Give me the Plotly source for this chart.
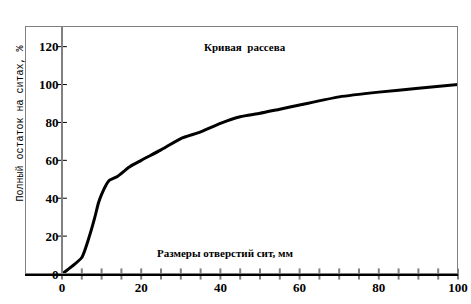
import plotly.graph_objects as go

sieve_mm = [0, 2.5, 5, 7, 8.3, 9.2, 10, 11, 12, 14, 17, 20, 25, 30, 35, 40, 45, 50, 55, 60, 70, 80, 90, 100]
residue_pct = [0, 4, 8.7, 20.5, 30, 37.5, 42, 46.5, 49.5, 51.5, 56.5, 60, 65.5, 71.5, 75, 79.5, 83, 84.8, 87, 89.2, 93.5, 96, 98, 100]
x_tick_vals = list(range(0, 101, 5))
x_tick_text = ["<b>0</b>", "", "", "", "<b>20</b>", "", "", "", "<b>40</b>", "", "", "",
               "<b>60</b>", "", "", "", "<b>80</b>", "", "", "", "<b>100</b>"]
y_ticks = [0, 20, 40, 60, 80, 100, 120]
y_tick_text = ["<b>0</b>", "<b>20</b>", "<b>40</b>", "<b>60</b>", "<b>80</b>", "<b>100</b>", "<b>120</b>"]
frame_x = [0, 1, 1, 0, 0]
frame_y = [0, 0, 1, 1, 0]

title_text = "Кривая  рассева"
x_title = "Размеры отверстий сит, мм"
y_title = "Полный остаток на ситах, %"

W, H = 471, 304
L, R, T, B = 25, 13, 26, 30
pw, ph = W - L - R, H - T - B
X0_PX = 62
x_left = -(X0_PX - L) / ((W - R - X0_PX) / 100.0)
XRANGE = [x_left, 100]
YRANGE = [0, 130.9]

SERIF = "Times New Roman, Liberation Serif, DejaVu Serif, serif"
MONO = "Courier New, Liberation Mono, DejaVu Sans Mono, monospace"
GRAY = "#808080"

fig = go.Figure()
# outer frame on a unit overlay axis pair
fig.add_trace(go.Scatter(x=frame_x, y=frame_y, xaxis="x2", yaxis="y2", mode="lines",
                         line=dict(color=GRAY, width=2), cliponaxis=False,
                         hoverinfo="skip", showlegend=False))
# tick marks drawn as markers on the axes
fig.add_trace(go.Scatter(x=x_tick_vals, y=[0] * len(x_tick_vals), mode="markers",
                         marker=dict(symbol="line-ns", size=8, line=dict(color=GRAY, width=2)),
                         cliponaxis=False, hoverinfo="skip", showlegend=False))
fig.add_trace(go.Scatter(x=[0] * len(y_ticks), y=y_ticks, mode="markers",
                         marker=dict(symbol="line-ew", size=7, line=dict(color="black", width=1)),
                         cliponaxis=False, hoverinfo="skip", showlegend=False))
fig.add_trace(go.Scatter(x=sieve_mm, y=residue_pct, mode="lines",
                         line=dict(color="black", width=3, shape="spline", smoothing=0.6),
                         cliponaxis=False, hoverinfo="skip", showlegend=False))

tick_font = dict(family=SERIF, size=13, color="black")
common = dict(showgrid=False, zeroline=False, fixedrange=True, automargin=False)
fig.update_layout(
    width=W, height=H, autosize=False,
    margin=dict(l=L, r=R, t=T, b=B, pad=0, autoexpand=False),
    paper_bgcolor="white", plot_bgcolor="white",
    xaxis=dict(range=XRANGE, tickmode="array", tickvals=x_tick_vals, ticktext=x_tick_text,
               ticks="", showline=True, linecolor="black", linewidth=2, anchor="y",
               layer="above traces", tickfont=tick_font, **common),
    xaxis2=dict(range=[0, 1], overlaying="x", anchor="y2", visible=False, **common),
    yaxis=dict(range=YRANGE, tickmode="array", tickvals=y_ticks, ticktext=y_tick_text,
               ticks="", anchor="free", position=(X0_PX - L) / pw,
               showline=True, linecolor=GRAY, linewidth=2,
               tickfont=tick_font, **common),
    yaxis2=dict(range=[0, 1], overlaying="y", anchor="x2", visible=False, **common),
    annotations=[
        dict(text=f"<b>{title_text}</b>", xref="paper", yref="paper",
             x=(245 - L) / pw, y=(H - B - 39) / ph, showarrow=False,
             font=dict(family=SERIF, size=11, color="black")),
        dict(text=f"<b>{x_title}</b>", xref="paper", yref="paper",
             x=(225 - L) / pw, y=(H - B - 261) / ph, showarrow=False,
             font=dict(family=SERIF, size=11, color="black")),
        dict(text=y_title, xref="paper", yref="paper", textangle=-90,
             x=(12 - L) / pw, y=(H - B - 124) / ph, showarrow=False,
             font=dict(family=MONO, size=10, color="black")),
    ],
)
fig.write_html("out.html", config={"responsive": False, "displayModeBar": False})
